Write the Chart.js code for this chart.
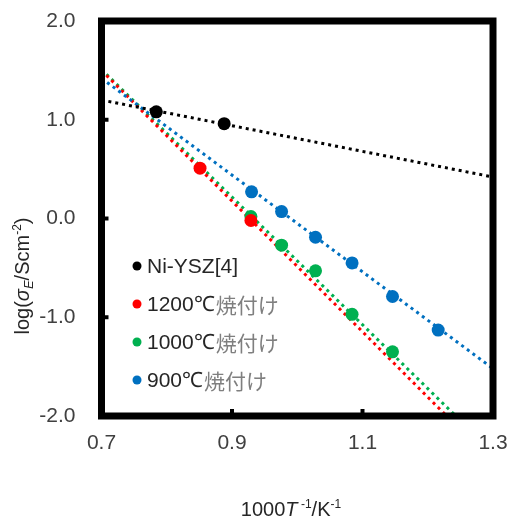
<!DOCTYPE html>
<html>
<head>
<meta charset="utf-8">
<script src="https://cdn.jsdelivr.net/npm/chart.js@4"></script>
<style>
  html, body { margin: 0; padding: 0; background: #fff; }
  #wrap { width: 507px; height: 517px; }
</style>
</head>
<body>
<div id="wrap"><canvas id="myChart" width="507" height="517"></canvas></div>
<script>
// measured points, x = 1000/T (K^-1), y = log(sigma_E / S cm^-2)
const niX = [0.784, 0.888];
const niY = [1.08, 0.96];
const c1200X = [0.851, 0.929];
const c1200Y = [0.51, -0.02];
const c1000X = [0.929, 0.976, 1.028, 1.084, 1.146];
const c1000Y = [0.02, -0.27, -0.53, -0.97, -1.35];
const c900X = [0.930, 0.976, 1.028, 1.084, 1.146, 1.216];
const c900Y = [0.27, 0.07, -0.19, -0.45, -0.79, -1.13];

// dotted fit lines (end points)
const niFitX = [0.7, 1.3];
const niFitY = [1.20, 0.42];
const c1200FitX = [0.7, 1.229];
const c1200FitY = [1.50, -2.0];
const c1000FitX = [0.7, 1.243];
const c1000FitY = [1.51, -2.0];
const c900FitX = [0.7, 1.3];
const c900FitY = [1.42, -1.52];

const labels = ['Ni-YSZ[4]', '1200℃焼付け', '1000℃焼付け', '900℃焼付け'];
const colors = ['#000000', '#FF0000', '#00B050', '#0070C0'];

const xTicks = [0.7, 0.9, 1.1, 1.3];
const yTicks = [2.0, 1.0, 0.0, -1.0, -2.0];

const FONT = '"Liberation Sans", Arial, sans-serif';
const CJK = '"Noto Sans CJK JP", sans-serif';

function pts(xs, ys) {
    return xs.map((x, i) => ({ x: x, y: ys[i] }))
}

function pointSet(label, xs, ys, color) {
    return {
        label: label,
        data: pts(xs, ys),
        backgroundColor: color,
        borderColor: color,
        pointRadius: 6.5,
        pointHoverRadius: 6.5,
        borderWidth: 0,
        order: 1
    }
}

function fitSet(xs, ys, color) {
    return {
        label: '_fit',
        data: pts(xs, ys),
        showLine: true,
        borderColor: color,
        borderWidth: 3,
        borderDash: [3, 4],
        borderCapStyle: 'butt',
        pointRadius: 0,
        pointHoverRadius: 0,
        fill: false,
        order: 2
    }
}

const datasets = [
    fitSet(niFitX, niFitY, colors[0]),
    fitSet(c900FitX, c900FitY, colors[3]),
    fitSet(c1200FitX, c1200FitY, colors[1]),
    fitSet(c1000FitX, c1000FitY, colors[2]),
    pointSet(labels[0], niX, niY, colors[0]),
    pointSet(labels[1], c1200X, c1200Y, colors[1]),
    pointSet(labels[2], c1000X, c1000Y, colors[2]),
    pointSet(labels[3], c900X, c900Y, colors[3])
];

// draws rich text pieces one after another: [text, font, dy]
function drawPieces(ctx, pieces, x, y, color) {
    ctx.fillStyle = color;
    ctx.textBaseline = 'alphabetic';
    ctx.textAlign = 'left';
    let total = 0;
    pieces.forEach(p => { ctx.font = p[1]; total += ctx.measureText(p[0]).width });
    let cx = x - total / 2;
    pieces.forEach(p => {
        ctx.font = p[1];
        ctx.fillText(p[0], cx, y + p[2]);
        cx += ctx.measureText(p[0]).width;
    })
}

const framePlugin = {
    id: 'frame',
    afterDatasetsDraw(chart) {
        const ctx = chart.ctx;
        const a = chart.chartArea;
        const xs = chart.scales.x, ys = chart.scales.y;
        ctx.save();
        // thick box
        ctx.strokeStyle = '#000';
        ctx.lineWidth = 7;
        ctx.lineJoin = 'miter';
        ctx.strokeRect(a.left, a.top, a.right - a.left, a.bottom - a.top);
        // inward tick marks
        ctx.lineWidth = 4;
        [0.9, 1.1].forEach(v => {
            const px = xs.getPixelForValue(v);
            ctx.beginPath();
            ctx.moveTo(px, a.bottom);
            ctx.lineTo(px, a.bottom - 7);
            ctx.stroke();
        });
        [1.0, 0.0, -1.0].forEach(v => {
            const py = ys.getPixelForValue(v);
            ctx.beginPath();
            ctx.moveTo(a.left, py);
            ctx.lineTo(a.left + 7, py);
            ctx.stroke();
        });

        // legend inside the plot
        const lx = 137, ly0 = 266, step = 38;
        labels.forEach((lab, i) => {
            const y = ly0 + i * step;
            ctx.fillStyle = colors[i];
            ctx.beginPath();
            ctx.arc(lx, y, 4.5, 0, Math.PI * 2);
            ctx.fill();
            const m = lab.match(/^([^\u3000-\u9fff]*?)([\u3000-\u9fff].*)?$/);
            const head = m[1], tail = m[2] || '';
            ctx.textBaseline = 'middle';
            ctx.textAlign = 'left';
            ctx.font = '21px ' + FONT;
            ctx.fillStyle = '#262626';
            ctx.fillText(head, lx + 10, y + 1);
            let w = ctx.measureText(head).width;
            if (tail) {
                ctx.font = '21px ' + CJK;
                ctx.fillStyle = '#7f7f7f';
                ctx.fillText(tail, lx + 10 + w + 1, y + 1);
            }
        });

        // axis titles
        const reg = '20px ' + FONT, ita = 'italic 20px ' + FONT, sup = '12px ' + FONT, subI = 'italic 13px ' + FONT;
        drawPieces(ctx, [
            ['1000', reg, 0], ['T', ita, 0], [' -1', sup, -8], ['/K', reg, 0], ['-1', sup, -8]
        ], 291, 516, '#262626');

        ctx.translate(29, 276);
        ctx.rotate(-Math.PI / 2);
        drawPieces(ctx, [
            ['log(', reg, 0], ['σ', ita, 0], ['E', subI, 4], ['/Scm', reg, 0], ['-2', sup, -8], [')', reg, 0]
        ], 0, 0, '#262626');
        ctx.restore();
    }
};

const ctx = document.getElementById('myChart');
const config = {
    type: 'scatter',
    data: { datasets: datasets },
    options: {
        responsive: false,
        animation: false,
        events: [],
        layout: { padding: { top: 21, right: 14, left: 0, bottom: 0 } },
        scales: {
            x: {
                type: 'linear',
                min: xTicks[0],
                max: xTicks[xTicks.length - 1],
                afterBuildTicks: (s) => { s.ticks = xTicks.map(v => ({ value: v })) },
                afterFit: (s) => { s.height = 101; s.paddingLeft = 0; s.paddingRight = 0 },
                grid: { display: false, drawTicks: false },
                border: { display: false },
                ticks: {
                    padding: 15,
                    color: '#404040',
                    font: { family: FONT, size: 21 },
                    callback: (v) => Number(v).toFixed(1)
                }
            },
            y: {
                type: 'linear',
                min: yTicks[yTicks.length - 1],
                max: yTicks[0],
                afterBuildTicks: (s) => { s.ticks = yTicks.map(v => ({ value: v })) },
                afterFit: (s) => { s.width = 101.5; s.paddingTop = 0; s.paddingBottom = 0 },
                grid: { display: false, drawTicks: false },
                border: { display: false },
                ticks: {
                    padding: 26,
                    color: '#404040',
                    font: { family: FONT, size: 21 },
                    callback: (v) => Number(v).toFixed(1)
                }
            }
        },
        plugins: {
            legend: { display: false },
            tooltip: { enabled: false }
        }
    },
    plugins: [framePlugin]
};

chart = new Chart(ctx, config);
</script>
</body>
</html>
